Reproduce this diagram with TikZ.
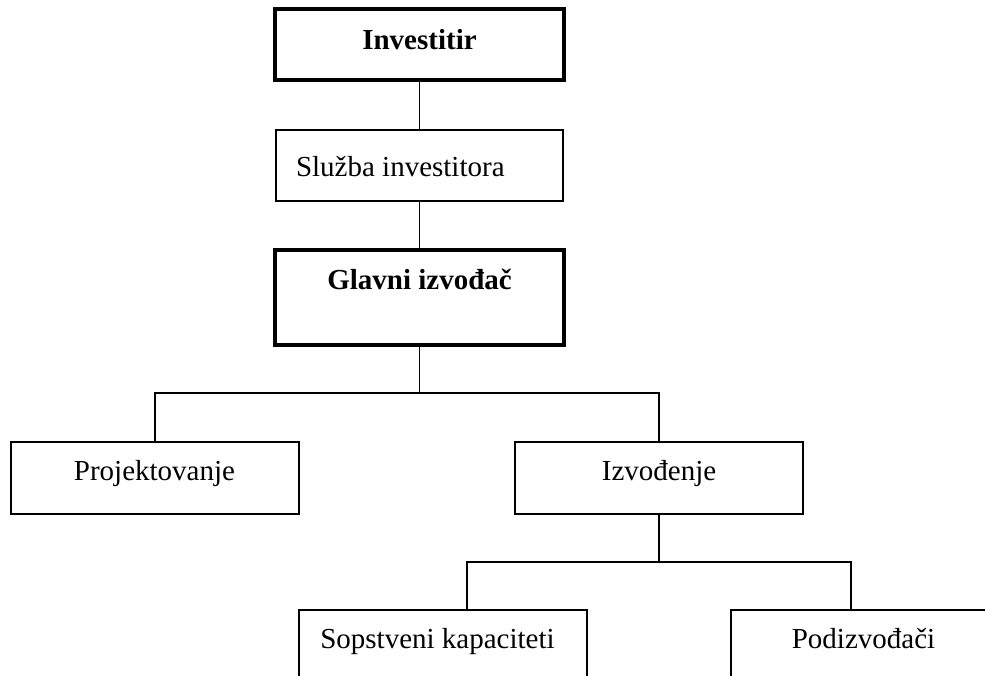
\documentclass[tikz,border=0pt]{standalone}
\usepackage{fontspec}
\setmainfont{Liberation Serif}
\begin{document}
\begin{tikzpicture}[x=1pt,y=-1pt,
  thinbox/.style={draw=black,line width=1.8pt,rectangle,inner sep=0pt,outer sep=0pt,fill=none},
  thickbox/.style={draw=black,line width=4pt,rectangle,inner sep=0pt,outer sep=0pt,fill=none},
  lbl/.style={inner sep=0pt,outer sep=0pt,anchor=base,font=\fontsize{29}{34}\selectfont},
  blbl/.style={lbl,font=\fontsize{29}{34}\selectfont\bfseries},
  conn/.style={draw=black,line width=1.8pt}]
\useasboundingbox (0,0) rectangle (985,676);
\clip (0,0) rectangle (985,676);
% boxes
\node[thickbox,minimum width=289.5pt,minimum height=71pt] (inv) at (419.5,45) {};
\node[thinbox,minimum width=287.7pt,minimum height=71pt] (sluz) at (419.5,165.5) {};
\node[thickbox,minimum width=288.4pt,minimum height=95.3pt] (glav) at (419.5,297.65) {};
\node[thinbox,minimum width=287.6pt,minimum height=72.6pt] (proj) at (155,478) {};
\node[thinbox,minimum width=288.1pt,minimum height=72.6pt] (izv) at (659.25,478) {};
\node[thinbox,minimum width=287.7pt,minimum height=90pt] (sop) at (442.85,655) {};
\node[thinbox,minimum width=287.7pt,minimum height=90pt] (pod) at (875.15,655) {};
% texts
\node[blbl] (tinv) at (419.5,50) {Investitir};
\node[lbl,anchor=base west] (tsluz) at (296,177) {Služba investitora};
\node[blbl] (tglav) at (419.5,290) {Glavni izvođač};
\node[lbl] (tproj) at (154.5,480) {Projektovanje};
\node[lbl] (tizv) at (659,480) {Izvođenje};
\node[lbl] (tsop) at (437.5,648) {Sopstveni kapaciteti};
\node[lbl] (tpod) at (863.5,648) {Podizvođači};
% junctions
\coordinate (j1) at (419.5,393.3);
\coordinate (j2) at (659.25,562);
\coordinate (sopt) at (467,610);
\coordinate (podt) at (851,610);
% connectors
\draw[conn] (inv.south) -- (sluz.north);
\draw[conn] (sluz.south) -- (glav.north);
\draw[conn] (glav.south) -- (j1);
\draw[conn] (proj.north) |- (j1) -| (izv.north);
\draw[conn] (izv.south) -- (j2);
\draw[conn] (sopt) |- (j2) -| (podt);
\end{tikzpicture}
\end{document}
